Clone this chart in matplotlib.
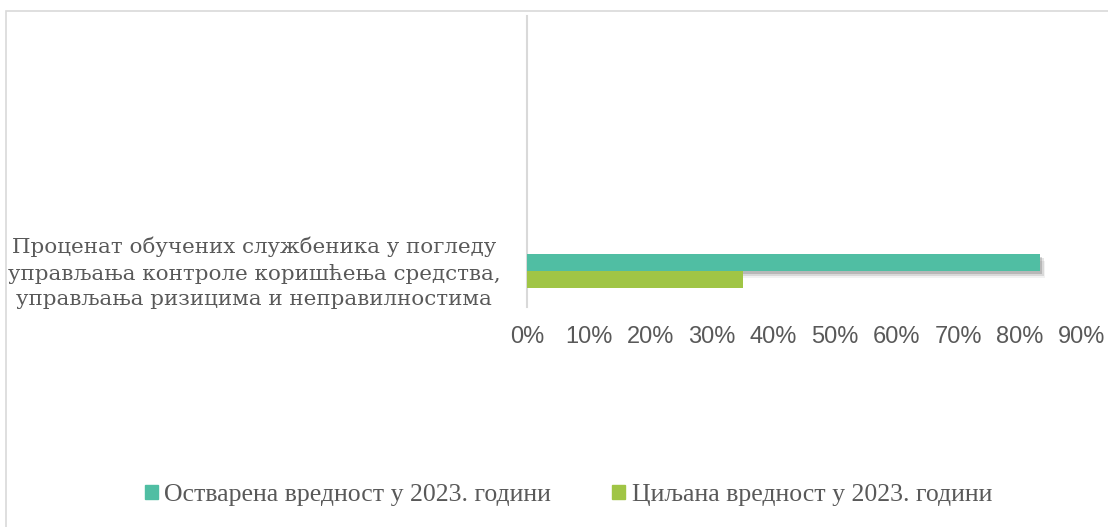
import matplotlib
matplotlib.use("Agg")
import matplotlib.pyplot as plt
from matplotlib.patches import Rectangle, Patch
import matplotlib.patheffects as pe
import matplotlib.transforms as mtransforms

# data
category = ["Проценат обучених службеника у погледу\n"
            "управљања контроле коришћења средства,\n"
            "управљања ризицима и неправилностима"]
series_names = ["Остварена вредност у 2023. години",
                "Циљана вредност у 2023. години"]
achieved = [0.833]
target = [0.35]
xticks = [0, 0.1, 0.2, 0.3, 0.4, 0.5, 0.6, 0.7, 0.8, 0.9]

teal = "#50BEA3"
green = "#A0C545"
grey = "#595959"

W, H = 1108, 527
fig = plt.figure(figsize=(W / 100, H / 100), dpi=100)
ax = fig.add_axes([527 / W, 1 - 306.7 / H, (1081.7 - 527) / W, 290.7 / H])

h = 0.059
shadow = [pe.SimplePatchShadow(offset=(3.5, -5), shadow_rgbFace="k", alpha=0.05),
          pe.SimplePatchShadow(offset=(2.5, -3.5), shadow_rgbFace="k", alpha=0.10),
          pe.SimplePatchShadow(offset=(1.5, -2.2), shadow_rgbFace="k", alpha=0.15),
          pe.Normal()]
ax.barh([h / 2], achieved, height=h, color=teal, path_effects=shadow, zorder=3)
ax.barh([-h / 2], target, height=h, color=green, zorder=4)

ax.set_xlim(0, 0.9)
ax.set_ylim(-0.1238, 0.8762)
ax.set_xticks(xticks, [f"{int(round(t * 100))}%" for t in xticks])
ax.set_yticks([0], category)
ax.tick_params(axis="x", length=0, pad=14, labelsize=17, labelcolor=grey)
ax.tick_params(axis="y", length=0, pad=19, labelsize=15.4, labelcolor=grey)
for lab in ax.get_xticklabels():
    lab.set_fontfamily("Liberation Sans")
shift = mtransforms.ScaledTranslation(0, 3 / 100, fig.dpi_scale_trans)
for lab in ax.get_yticklabels():
    lab.set_fontfamily("DejaVu Serif")
    lab.set_multialignment("center")
    lab.set_linespacing(1.4)
    lab.set_transform(lab.get_transform() + shift)

for s in ["top", "right", "bottom"]:
    ax.spines[s].set_visible(False)
ax.spines["left"].set_color("#D9D9D9")
ax.spines["left"].set_linewidth(1.5)

# outer chart frame
fig.patches.append(Rectangle((6 / W, -0.2), 1.2, 1.2 - 11 / H, transform=fig.transFigure,
                             fill=False, edgecolor="#D9D9D9", lw=1.2))

handles = [Patch(color=teal), Patch(color=green)]
fig.legend(handles, series_names, loc="center", bbox_to_anchor=(0.513, 1 - 495 / H),
           ncol=2, frameon=False, handlelength=0.5, handleheight=0.5, handletextpad=0.25,
           columnspacing=2.4, prop={"family": "Liberation Serif", "size": 18.5},
           labelcolor=grey)

fig.savefig("out.png", dpi=100)
